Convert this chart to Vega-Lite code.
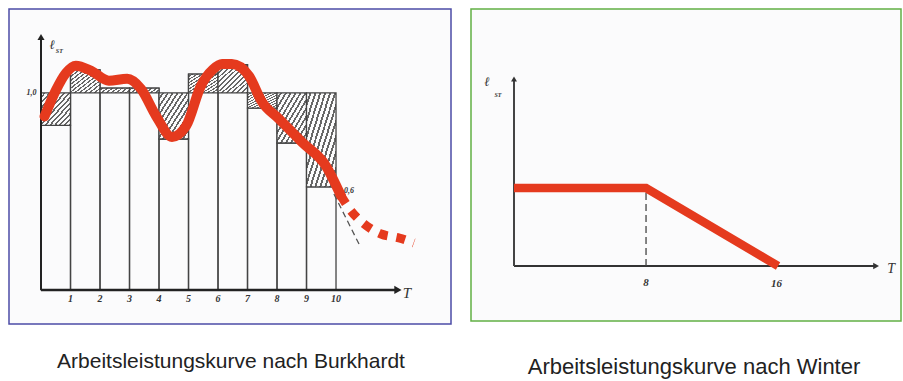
{
  "$schema": "https://vega.github.io/schema/vega-lite/v6.json",
  "padding": {"left": 8, "top": 8, "right": 5, "bottom": 5},
  "background": "white",
  "spacing": 18,
  "config": {"concat": {"spacing": 18}},
  "datasets": {
    "bars": [
      {"t0": 0, "t1": 1, "base": 0.162, "top": 0.862, "ref": 1.0},
      {"t0": 1, "t1": 2, "base": 0.162, "top": 1.098, "ref": 1.0},
      {"t0": 2, "t1": 3, "base": 0.162, "top": 1.02, "ref": 1.0},
      {"t0": 3, "t1": 4, "base": 0.162, "top": 1.02, "ref": 1.0},
      {"t0": 4, "t1": 5, "base": 0.162, "top": 0.804, "ref": 1.0},
      {"t0": 5, "t1": 6, "base": 0.162, "top": 1.08, "ref": 1.0},
      {"t0": 6, "t1": 7, "base": 0.162, "top": 1.12, "ref": 1.0},
      {"t0": 7, "t1": 8, "base": 0.162, "top": 0.935, "ref": 1.0},
      {"t0": 8, "t1": 9, "base": 0.162, "top": 0.787, "ref": 1.0},
      {"t0": 9, "t1": 10, "base": 0.162, "top": 0.6, "ref": 1.0}
    ],
    "curve": [
      {"t": 0.12, "l": 0.9},
      {"t": 0.5, "l": 1.01},
      {"t": 0.85, "l": 1.085},
      {"t": 1.18, "l": 1.116},
      {"t": 1.7, "l": 1.094},
      {"t": 2.3, "l": 1.052},
      {"t": 2.92, "l": 1.06},
      {"t": 3.39, "l": 1.017},
      {"t": 3.9, "l": 0.902},
      {"t": 4.44, "l": 0.813},
      {"t": 4.92, "l": 0.86},
      {"t": 5.42, "l": 1.03},
      {"t": 5.83, "l": 1.1},
      {"t": 6.14, "l": 1.123},
      {"t": 6.47, "l": 1.123},
      {"t": 7.05, "l": 1.072},
      {"t": 7.49, "l": 0.962},
      {"t": 8.07, "l": 0.889},
      {"t": 8.85, "l": 0.79},
      {"t": 9.66, "l": 0.689},
      {"t": 10.17, "l": 0.562}
    ],
    "curveDash": [
      {"t": 10.17, "l": 0.562},
      {"t": 10.51, "l": 0.498},
      {"t": 10.95, "l": 0.443},
      {"t": 11.53, "l": 0.4},
      {"t": 12.14, "l": 0.383},
      {"t": 12.64, "l": 0.362}
    ],
    "grayDash": [
      {"t": 9.93, "l": 0.57},
      {"t": 10.78, "l": 0.357}
    ],
    "leftAxisX": [{"x": 0, "x2": 12.1, "y": 0.162}],
    "leftAxisY": [{"x": 0, "y": 0.162, "y2": 1.238}],
    "leftArrowR": [{"x": 12.1, "y": 0.162}],
    "leftArrowU": [{"x": 0, "y": 1.238}],
    "leftTicks": [
      {"x": 1, "y": 0.123, "label": "1"},
      {"x": 2, "y": 0.123, "label": "2"},
      {"x": 3, "y": 0.123, "label": "3"},
      {"x": 4, "y": 0.123, "label": "4"},
      {"x": 5, "y": 0.123, "label": "5"},
      {"x": 6, "y": 0.123, "label": "6"},
      {"x": 7, "y": 0.123, "label": "7"},
      {"x": 8, "y": 0.123, "label": "8"},
      {"x": 9, "y": 0.123, "label": "9"},
      {"x": 10, "y": 0.123, "label": "10"}
    ],
    "leftSmall": [
      {"x": -0.32, "y": 1.0, "label": "1,0"},
      {"x": 10.44, "y": 0.583, "label": "0,6"}
    ],
    "leftBig": [
      {"x": 12.4, "y": 0.15, "label": "T", "size": 15},
      {"x": 0.38, "y": 1.205, "label": "ℓ", "size": 13}
    ],
    "leftSub": [{"x": 0.62, "y": 1.18, "label": "ST"}],
    "rightLine": [
      {"t": 0, "l": 1.0},
      {"t": 8, "l": 1.0},
      {"t": 16, "l": 0.0}
    ],
    "rightDash": [{"x": 8, "y": 0, "y2": 1.0}],
    "rightAxisX": [{"x": 0, "x2": 21.94, "y": 0}],
    "rightAxisY": [{"x": 0, "y": 0, "y2": 2.397}],
    "rightArrowR": [{"x": 21.94, "y": 0}],
    "rightArrowU": [{"x": 0, "y": 2.397}],
    "rightTicks": [
      {"x": 8, "y": -0.22, "label": "8"},
      {"x": 15.9, "y": -0.23, "label": "16"}
    ],
    "rightBig": [
      {"x": 22.85, "y": -0.04, "label": "T", "size": 14},
      {"x": -1.64, "y": 2.36, "label": "ℓ", "size": 13}
    ],
    "rightSub": [{"x": -0.97, "y": 2.19, "label": "ST"}]
  },
  "hconcat": [
    {
      "width": 442,
      "height": 315,
      "view": {"stroke": "#4c4ca6", "strokeWidth": 1.5, "fill": "#fbfbfc"},
      "title": {"text": "Arbeitsleistungskurve nach Burkhardt", "orient": "bottom", "offset": 27, "font": "Liberation Sans", "fontSize": 21, "fontWeight": "normal", "color": "#222222", "anchor": "middle", "dx": 1},
      "layer": [
        {
          "data": {"name": "bars"},
          "mark": {"type": "rect", "fill": null, "stroke": "#444444", "strokeWidth": 1.3},
          "encoding": {
            "x": {"field": "t0", "type": "quantitative", "axis": null, "scale": {"domain": [-1.085, 13.898], "nice": false, "zero": false}},
            "x2": {"field": "t1"},
            "y": {"field": "base", "type": "quantitative", "axis": null, "scale": {"domain": [0.017, 1.357], "nice": false, "zero": false}},
            "y2": {"field": "top"}
          }
        },
        {
          "data": {"name": "bars"},
          "mark": {
            "type": "rect",
            "stroke": "#444444",
            "strokeWidth": 1.3,
            "fill": {
              "gradient": "linear", "x1": 0, "y1": 0, "x2": 1, "y2": 1,
              "stops": [
                {"offset": 0, "color": "#fbfbfc"}, {"offset": 0.05, "color": "#fbfbfc"}, {"offset": 0.05, "color": "#666666"}, {"offset": 0.0833, "color": "#666666"},
                {"offset": 0.0833, "color": "#fbfbfc"}, {"offset": 0.1333, "color": "#fbfbfc"}, {"offset": 0.1333, "color": "#666666"}, {"offset": 0.1667, "color": "#666666"},
                {"offset": 0.1667, "color": "#fbfbfc"}, {"offset": 0.2167, "color": "#fbfbfc"}, {"offset": 0.2167, "color": "#666666"}, {"offset": 0.25, "color": "#666666"},
                {"offset": 0.25, "color": "#fbfbfc"}, {"offset": 0.3, "color": "#fbfbfc"}, {"offset": 0.3, "color": "#666666"}, {"offset": 0.3333, "color": "#666666"},
                {"offset": 0.3333, "color": "#fbfbfc"}, {"offset": 0.3833, "color": "#fbfbfc"}, {"offset": 0.3833, "color": "#666666"}, {"offset": 0.4167, "color": "#666666"},
                {"offset": 0.4167, "color": "#fbfbfc"}, {"offset": 0.4667, "color": "#fbfbfc"}, {"offset": 0.4667, "color": "#666666"}, {"offset": 0.5, "color": "#666666"},
                {"offset": 0.5, "color": "#fbfbfc"}, {"offset": 0.55, "color": "#fbfbfc"}, {"offset": 0.55, "color": "#666666"}, {"offset": 0.5833, "color": "#666666"},
                {"offset": 0.5833, "color": "#fbfbfc"}, {"offset": 0.6333, "color": "#fbfbfc"}, {"offset": 0.6333, "color": "#666666"}, {"offset": 0.6667, "color": "#666666"},
                {"offset": 0.6667, "color": "#fbfbfc"}, {"offset": 0.7167, "color": "#fbfbfc"}, {"offset": 0.7167, "color": "#666666"}, {"offset": 0.75, "color": "#666666"},
                {"offset": 0.75, "color": "#fbfbfc"}, {"offset": 0.8, "color": "#fbfbfc"}, {"offset": 0.8, "color": "#666666"}, {"offset": 0.8333, "color": "#666666"},
                {"offset": 0.8333, "color": "#fbfbfc"}, {"offset": 0.8833, "color": "#fbfbfc"}, {"offset": 0.8833, "color": "#666666"}, {"offset": 0.9167, "color": "#666666"},
                {"offset": 0.9167, "color": "#fbfbfc"}, {"offset": 0.9667, "color": "#fbfbfc"}, {"offset": 0.9667, "color": "#666666"}, {"offset": 1, "color": "#666666"}
              ]
            }
          },
          "encoding": {
            "x": {"field": "t0", "type": "quantitative", "axis": null, "scale": {"domain": [-1.085, 13.898], "nice": false, "zero": false}},
            "x2": {"field": "t1"},
            "y": {"field": "ref", "type": "quantitative", "axis": null, "scale": {"domain": [0.017, 1.357], "nice": false, "zero": false}},
            "y2": {"field": "top"}
          }
        },
        {
          "data": {"name": "leftAxisX"},
          "mark": {"type": "rule", "stroke": "#222222", "strokeWidth": 2.5},
          "encoding": {
            "x": {"field": "x", "type": "quantitative", "axis": null, "scale": {"domain": [-1.085, 13.898], "nice": false, "zero": false}},
            "x2": {"field": "x2"},
            "y": {"field": "y", "type": "quantitative", "axis": null, "scale": {"domain": [0.017, 1.357], "nice": false, "zero": false}}
          }
        },
        {
          "data": {"name": "leftAxisY"},
          "mark": {"type": "rule", "stroke": "#222222", "strokeWidth": 2},
          "encoding": {
            "x": {"field": "x", "type": "quantitative", "axis": null, "scale": {"domain": [-1.085, 13.898], "nice": false, "zero": false}},
            "y": {"field": "y", "type": "quantitative", "axis": null, "scale": {"domain": [0.017, 1.357], "nice": false, "zero": false}},
            "y2": {"field": "y2"}
          }
        },
        {
          "data": {"name": "leftArrowR"},
          "mark": {"type": "point", "shape": "triangle-right", "filled": true, "color": "#222222", "size": 70, "opacity": 1},
          "encoding": {
            "x": {"field": "x", "type": "quantitative", "axis": null, "scale": {"domain": [-1.085, 13.898], "nice": false, "zero": false}},
            "y": {"field": "y", "type": "quantitative", "axis": null, "scale": {"domain": [0.017, 1.357], "nice": false, "zero": false}}
          }
        },
        {
          "data": {"name": "leftArrowU"},
          "mark": {"type": "point", "shape": "triangle-up", "filled": true, "color": "#222222", "size": 50, "opacity": 1},
          "encoding": {
            "x": {"field": "x", "type": "quantitative", "axis": null, "scale": {"domain": [-1.085, 13.898], "nice": false, "zero": false}},
            "y": {"field": "y", "type": "quantitative", "axis": null, "scale": {"domain": [0.017, 1.357], "nice": false, "zero": false}}
          }
        },
        {
          "data": {"name": "grayDash"},
          "mark": {"type": "line", "stroke": "#555555", "strokeWidth": 1.3, "strokeDash": [6, 4]},
          "encoding": {
            "x": {"field": "t", "type": "quantitative", "axis": null, "scale": {"domain": [-1.085, 13.898], "nice": false, "zero": false}},
            "y": {"field": "l", "type": "quantitative", "axis": null, "scale": {"domain": [0.017, 1.357], "nice": false, "zero": false}}
          }
        },
        {
          "data": {"name": "curve"},
          "mark": {"type": "line", "stroke": "#e53a1e", "strokeWidth": 10, "interpolate": "monotone", "strokeCap": "round"},
          "encoding": {
            "x": {"field": "t", "type": "quantitative", "axis": null, "scale": {"domain": [-1.085, 13.898], "nice": false, "zero": false}},
            "y": {"field": "l", "type": "quantitative", "axis": null, "scale": {"domain": [0.017, 1.357], "nice": false, "zero": false}}
          }
        },
        {
          "data": {"name": "curveDash"},
          "mark": {"type": "line", "stroke": "#e53a1e", "strokeWidth": 9, "interpolate": "monotone", "strokeDash": [9, 9], "strokeDashOffset": 0},
          "encoding": {
            "x": {"field": "t", "type": "quantitative", "axis": null, "scale": {"domain": [-1.085, 13.898], "nice": false, "zero": false}},
            "y": {"field": "l", "type": "quantitative", "axis": null, "scale": {"domain": [0.017, 1.357], "nice": false, "zero": false}}
          }
        },
        {
          "data": {"name": "leftTicks"},
          "mark": {"type": "text", "font": "Liberation Serif", "fontStyle": "italic", "fontWeight": "bold", "fontSize": 10, "color": "#333333", "baseline": "middle", "align": "center"},
          "encoding": {
            "x": {"field": "x", "type": "quantitative", "axis": null, "scale": {"domain": [-1.085, 13.898], "nice": false, "zero": false}},
            "y": {"field": "y", "type": "quantitative", "axis": null, "scale": {"domain": [0.017, 1.357], "nice": false, "zero": false}},
            "text": {"field": "label"}
          }
        },
        {
          "data": {"name": "leftSmall"},
          "mark": {"type": "text", "font": "Liberation Serif", "fontStyle": "italic", "fontWeight": "bold", "fontSize": 8, "color": "#333333", "baseline": "middle", "align": "center"},
          "encoding": {
            "x": {"field": "x", "type": "quantitative", "axis": null, "scale": {"domain": [-1.085, 13.898], "nice": false, "zero": false}},
            "y": {"field": "y", "type": "quantitative", "axis": null, "scale": {"domain": [0.017, 1.357], "nice": false, "zero": false}},
            "text": {"field": "label"}
          }
        },
        {
          "data": {"name": "leftBig"},
          "mark": {"type": "text", "font": "Liberation Serif", "fontStyle": "italic", "color": "#333333", "baseline": "middle", "align": "center"},
          "encoding": {
            "x": {"field": "x", "type": "quantitative", "axis": null, "scale": {"domain": [-1.085, 13.898], "nice": false, "zero": false}},
            "y": {"field": "y", "type": "quantitative", "axis": null, "scale": {"domain": [0.017, 1.357], "nice": false, "zero": false}},
            "text": {"field": "label"},
            "size": {"field": "size", "type": "quantitative", "scale": null, "legend": null}
          }
        },
        {
          "data": {"name": "leftSub"},
          "mark": {"type": "text", "font": "Liberation Serif", "fontStyle": "italic", "fontWeight": "bold", "fontSize": 6, "color": "#333333", "baseline": "middle", "align": "center"},
          "encoding": {
            "x": {"field": "x", "type": "quantitative", "axis": null, "scale": {"domain": [-1.085, 13.898], "nice": false, "zero": false}},
            "y": {"field": "y", "type": "quantitative", "axis": null, "scale": {"domain": [0.017, 1.357], "nice": false, "zero": false}},
            "text": {"field": "label"}
          }
        }
      ]
    },
    {
      "width": 430,
      "height": 312,
      "view": {"stroke": "#62b044", "strokeWidth": 1.5, "fill": "#fbfbfc"},
      "title": {"text": "Arbeitsleistungskurve nach Winter", "orient": "bottom", "offset": 36, "font": "Liberation Sans", "fontSize": 22, "fontWeight": "normal", "color": "#222222", "anchor": "middle", "dx": 8},
      "layer": [
        {
          "data": {"name": "rightAxisX"},
          "mark": {"type": "rule", "stroke": "#333333", "strokeWidth": 2},
          "encoding": {
            "x": {"field": "x", "type": "quantitative", "axis": null, "scale": {"domain": [-2.606, 23.45], "nice": false, "zero": false}},
            "x2": {"field": "x2"},
            "y": {"field": "y", "type": "quantitative", "axis": null, "scale": {"domain": [-0.705, 3.295], "nice": false, "zero": false}}
          }
        },
        {
          "data": {"name": "rightAxisY"},
          "mark": {"type": "rule", "stroke": "#444444", "strokeWidth": 2},
          "encoding": {
            "x": {"field": "x", "type": "quantitative", "axis": null, "scale": {"domain": [-2.606, 23.45], "nice": false, "zero": false}},
            "y": {"field": "y", "type": "quantitative", "axis": null, "scale": {"domain": [-0.705, 3.295], "nice": false, "zero": false}},
            "y2": {"field": "y2"}
          }
        },
        {
          "data": {"name": "rightArrowR"},
          "mark": {"type": "point", "shape": "triangle-right", "filled": true, "color": "#333333", "size": 45, "opacity": 1},
          "encoding": {
            "x": {"field": "x", "type": "quantitative", "axis": null, "scale": {"domain": [-2.606, 23.45], "nice": false, "zero": false}},
            "y": {"field": "y", "type": "quantitative", "axis": null, "scale": {"domain": [-0.705, 3.295], "nice": false, "zero": false}}
          }
        },
        {
          "data": {"name": "rightArrowU"},
          "mark": {"type": "point", "shape": "triangle-up", "filled": true, "color": "#333333", "size": 35, "opacity": 1},
          "encoding": {
            "x": {"field": "x", "type": "quantitative", "axis": null, "scale": {"domain": [-2.606, 23.45], "nice": false, "zero": false}},
            "y": {"field": "y", "type": "quantitative", "axis": null, "scale": {"domain": [-0.705, 3.295], "nice": false, "zero": false}}
          }
        },
        {
          "data": {"name": "rightDash"},
          "mark": {"type": "rule", "stroke": "#444444", "strokeWidth": 1.3, "strokeDash": [7, 4]},
          "encoding": {
            "x": {"field": "x", "type": "quantitative", "axis": null, "scale": {"domain": [-2.606, 23.45], "nice": false, "zero": false}},
            "y": {"field": "y", "type": "quantitative", "axis": null, "scale": {"domain": [-0.705, 3.295], "nice": false, "zero": false}},
            "y2": {"field": "y2"}
          }
        },
        {
          "data": {"name": "rightLine"},
          "mark": {"type": "line", "stroke": "#e53a1e", "strokeWidth": 8.5},
          "encoding": {
            "x": {"field": "t", "type": "quantitative", "axis": null, "scale": {"domain": [-2.606, 23.45], "nice": false, "zero": false}},
            "y": {"field": "l", "type": "quantitative", "axis": null, "scale": {"domain": [-0.705, 3.295], "nice": false, "zero": false}}
          }
        },
        {
          "data": {"name": "rightTicks"},
          "mark": {"type": "text", "font": "Liberation Serif", "fontStyle": "italic", "fontWeight": "bold", "fontSize": 11, "color": "#333333", "baseline": "middle", "align": "center"},
          "encoding": {
            "x": {"field": "x", "type": "quantitative", "axis": null, "scale": {"domain": [-2.606, 23.45], "nice": false, "zero": false}},
            "y": {"field": "y", "type": "quantitative", "axis": null, "scale": {"domain": [-0.705, 3.295], "nice": false, "zero": false}},
            "text": {"field": "label"}
          }
        },
        {
          "data": {"name": "rightBig"},
          "mark": {"type": "text", "font": "Liberation Serif", "fontStyle": "italic", "color": "#333333", "baseline": "middle", "align": "center"},
          "encoding": {
            "x": {"field": "x", "type": "quantitative", "axis": null, "scale": {"domain": [-2.606, 23.45], "nice": false, "zero": false}},
            "y": {"field": "y", "type": "quantitative", "axis": null, "scale": {"domain": [-0.705, 3.295], "nice": false, "zero": false}},
            "text": {"field": "label"},
            "size": {"field": "size", "type": "quantitative", "scale": null, "legend": null}
          }
        },
        {
          "data": {"name": "rightSub"},
          "mark": {"type": "text", "font": "Liberation Serif", "fontStyle": "italic", "fontWeight": "bold", "fontSize": 6, "color": "#333333", "baseline": "middle", "align": "center"},
          "encoding": {
            "x": {"field": "x", "type": "quantitative", "axis": null, "scale": {"domain": [-2.606, 23.45], "nice": false, "zero": false}},
            "y": {"field": "y", "type": "quantitative", "axis": null, "scale": {"domain": [-0.705, 3.295], "nice": false, "zero": false}},
            "text": {"field": "label"}
          }
        }
      ]
    }
  ]
}
